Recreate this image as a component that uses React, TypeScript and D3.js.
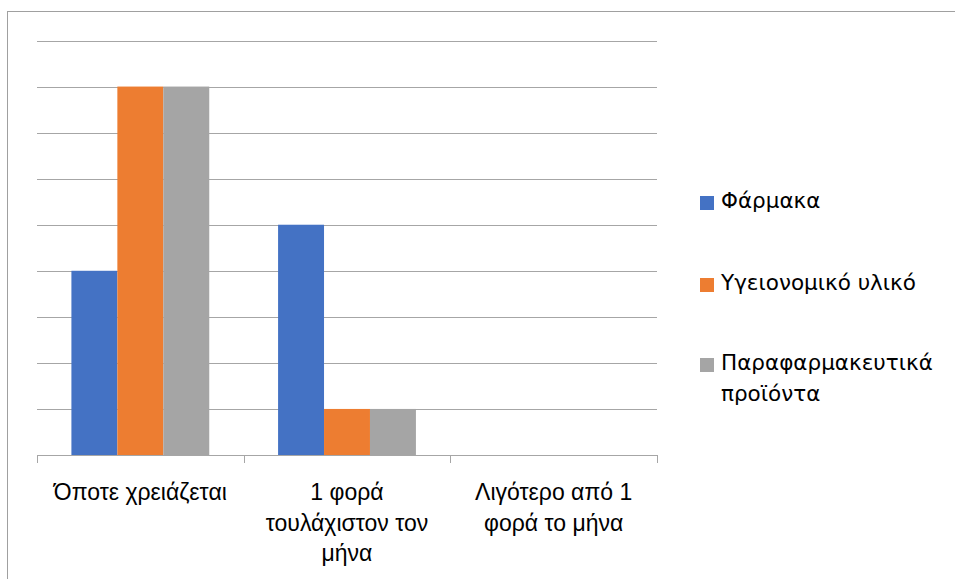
import React from "react";
import * as d3 from "d3";

const categories: string[][] = [
  ["Όποτε χρειάζεται"],
  ["1 φορά", "τουλάχιστον τον", "μήνα"],
  ["Λιγότερο από 1", "φορά το μήνα"],
];
const seriesNames = ["Φάρμακα", "Υγειονομικό υλικό", "Παραφαρμακευτικά προϊόντα"];
const legendLines: string[][] = [["Φάρμακα"], ["Υγειονομικό υλικό"], ["Παραφαρμακευτικά", "προϊόντα"]];
const farmaka = [4, 5, 0];
const ygeionomiko = [8, 1, 0];
const parafarmakeftika = [8, 1, 0];
const colors = ["#4472C4", "#ED7D31", "#A5A5A5"];
const yTicks = [0, 1, 2, 3, 4, 5, 6, 7, 8, 9];

export default function App() {
  const W = 955, H = 579;
  const left = 37, right = 657, top = 40.5, bottom = 455;
  const values = [farmaka, ygeionomiko, parafarmakeftika];
  const catIdx = categories.map((_, i) => i);
  const x0 = d3.scaleBand<number>().domain(catIdx).range([left, right]).padding(0);
  const bw = x0.bandwidth();
  const x1 = d3.scaleBand<number>().domain([0, 1, 2]).range([0.1665 * bw, 0.8335 * bw]).padding(0);
  const y = d3.scaleLinear().domain([0, 9]).range([bottom, top]);
  const catFont = "'Liberation Sans', Arial, sans-serif";
  const legFont = "'DejaVu Sans', sans-serif";
  const legBase = [208, 290, 370];
  return (
    <svg width={W} height={H} style={{ position: "absolute", left: 0, top: 0 }}>
      <rect x={0} y={0} width={W} height={H} fill="#fff" />
      <rect x={7.5} y={11.5} width={W + 10} height={H + 10} fill="none" stroke="#A0A0A0" strokeWidth={1} />
      {yTicks.slice(1).map((t) => (
        <line key={t} x1={left} x2={right} y1={Math.round(y(t)) + 0.5} y2={Math.round(y(t)) + 0.5} stroke="#A6A6A6" strokeWidth={1} />
      ))}
      {values.map((vals, s) =>
        vals.map((v, c) => (
          <rect key={`${s}-${c}`} x={x0(c)! + x1(s)!} width={x1.bandwidth()} y={y(v)} height={bottom - y(v)} fill={colors[s]} />
        ))
      )}
      <line x1={left} x2={right} y1={bottom + 0.5} y2={bottom + 0.5} stroke="#A6A6A6" />
      {[...catIdx, 3].map((i) => {
        const xx = Math.round(left + i * bw) + 0.5;
        return <line key={i} x1={xx} x2={xx} y1={bottom} y2={bottom + 8} stroke="#A6A6A6" />;
      })}
      {categories.map((lines, c) => (
        <text key={c} textAnchor="middle" fontFamily={catFont} fontSize={23} fill="#000">
          {lines.map((l, k) => (
            <tspan key={k} x={x0(c)! + bw / 2} y={500 + k * 30.5}>{l}</tspan>
          ))}
        </text>
      ))}
      {legendLines.map((lines, s) => (
        <g key={s}>
          <rect x={700} y={legBase[s] - 12} width={14} height={14} fill={colors[s]} />
          <text fontFamily={legFont} fontSize={21.5} fill="#000">
            {lines.map((l, k) => (
              <tspan key={k} x={721} y={legBase[s] + k * 31}>{l}</tspan>
            ))}
          </text>
        </g>
      ))}
    </svg>
  );
}
